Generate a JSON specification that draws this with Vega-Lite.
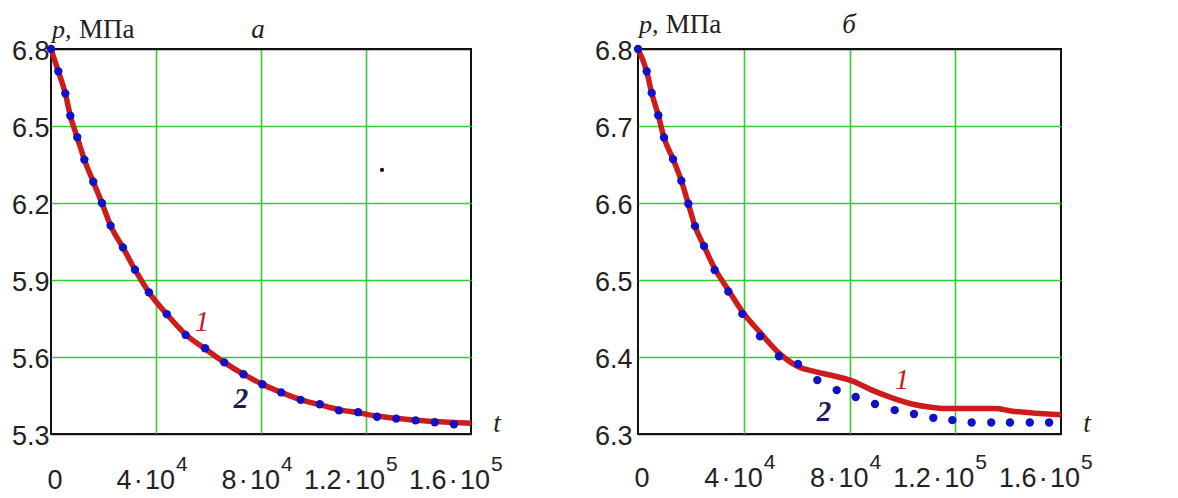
{
  "$schema": "https://vega.github.io/schema/vega-lite/v6.json",
  "background": "white",
  "padding": {"left": 10, "top": 10, "right": 5, "bottom": 5},
  "bounds": "flush",
  "spacing": 167,
  "config": {
    "view": {"stroke": "#111111", "strokeWidth": 2},
    "text": {"font": "Liberation Serif"}
  },
  "datasets": {
    "curveA": [
      {"t": 0, "p": 6.8}, {"t": 2800, "p": 6.713}, {"t": 5450, "p": 6.627}, {"t": 7350, "p": 6.54},
      {"t": 10000, "p": 6.456}, {"t": 12700, "p": 6.369}, {"t": 16100, "p": 6.283}, {"t": 19400, "p": 6.2},
      {"t": 22700, "p": 6.112}, {"t": 27400, "p": 6.027}, {"t": 32000, "p": 5.94}, {"t": 37300, "p": 5.852},
      {"t": 44100, "p": 5.767}, {"t": 51300, "p": 5.688}, {"t": 58700, "p": 5.632}, {"t": 66000, "p": 5.579},
      {"t": 73300, "p": 5.533}, {"t": 80500, "p": 5.494}, {"t": 87700, "p": 5.462}, {"t": 95100, "p": 5.434},
      {"t": 102400, "p": 5.414}, {"t": 109700, "p": 5.395}, {"t": 117000, "p": 5.383}, {"t": 124200, "p": 5.37},
      {"t": 131500, "p": 5.361}, {"t": 138900, "p": 5.354}, {"t": 146200, "p": 5.349}, {"t": 153500, "p": 5.345},
      {"t": 160000, "p": 5.342}
    ],
    "dotsA": [
      {"t": 0, "p": 6.8}, {"t": 2800, "p": 6.713}, {"t": 5450, "p": 6.627}, {"t": 7350, "p": 6.54},
      {"t": 10000, "p": 6.456}, {"t": 12700, "p": 6.369}, {"t": 16100, "p": 6.283}, {"t": 19400, "p": 6.2},
      {"t": 22700, "p": 6.112}, {"t": 27400, "p": 6.027}, {"t": 32000, "p": 5.94}, {"t": 37300, "p": 5.852},
      {"t": 44100, "p": 5.767}, {"t": 51300, "p": 5.686}, {"t": 58700, "p": 5.634}, {"t": 66000, "p": 5.579},
      {"t": 73300, "p": 5.533}, {"t": 80500, "p": 5.494}, {"t": 87700, "p": 5.462}, {"t": 95100, "p": 5.433},
      {"t": 102400, "p": 5.416}, {"t": 109700, "p": 5.392}, {"t": 117000, "p": 5.385}, {"t": 124200, "p": 5.367},
      {"t": 131500, "p": 5.36}, {"t": 138900, "p": 5.353}, {"t": 146200, "p": 5.346}, {"t": 153500, "p": 5.338}
    ],
    "strayA": [{"t": 126100, "p": 6.329}],
    "curveB": [
      {"t": 0, "p": 6.8}, {"t": 3290, "p": 6.771}, {"t": 5180, "p": 6.743}, {"t": 7680, "p": 6.714},
      {"t": 9830, "p": 6.685}, {"t": 13240, "p": 6.657}, {"t": 16380, "p": 6.629}, {"t": 19030, "p": 6.599},
      {"t": 21560, "p": 6.57}, {"t": 24960, "p": 6.544}, {"t": 29010, "p": 6.515}, {"t": 34160, "p": 6.487},
      {"t": 39450, "p": 6.459}, {"t": 46150, "p": 6.432}, {"t": 53330, "p": 6.405}, {"t": 60900, "p": 6.387},
      {"t": 67000, "p": 6.381}, {"t": 73400, "p": 6.376}, {"t": 80900, "p": 6.369}, {"t": 88500, "p": 6.357},
      {"t": 96100, "p": 6.347}, {"t": 103600, "p": 6.339}, {"t": 110100, "p": 6.335}, {"t": 116100, "p": 6.333},
      {"t": 135000, "p": 6.333}, {"t": 141100, "p": 6.33}, {"t": 160000, "p": 6.325}
    ],
    "dotsB": [
      {"t": 0, "p": 6.8}, {"t": 3290, "p": 6.771}, {"t": 5180, "p": 6.743}, {"t": 7680, "p": 6.714},
      {"t": 9830, "p": 6.685}, {"t": 13240, "p": 6.657}, {"t": 16380, "p": 6.629}, {"t": 19030, "p": 6.599},
      {"t": 21560, "p": 6.57}, {"t": 24960, "p": 6.544}, {"t": 29010, "p": 6.513}, {"t": 34160, "p": 6.485},
      {"t": 39450, "p": 6.456}, {"t": 46150, "p": 6.427}, {"t": 53330, "p": 6.401}, {"t": 60520, "p": 6.391},
      {"t": 67820, "p": 6.37}, {"t": 75160, "p": 6.357}, {"t": 82350, "p": 6.348}, {"t": 89650, "p": 6.339},
      {"t": 97100, "p": 6.331}, {"t": 104400, "p": 6.326}, {"t": 111700, "p": 6.321}, {"t": 118900, "p": 6.318},
      {"t": 126200, "p": 6.315}, {"t": 133600, "p": 6.315}, {"t": 140700, "p": 6.315}, {"t": 148200, "p": 6.315},
      {"t": 155500, "p": 6.315}
    ],
    "xlab": [
      {"t": 40000, "base": "4\u200a·\u200a10", "exp": "4"},
      {"t": 80000, "base": "8\u200a·\u200a10", "exp": "4"},
      {"t": 120000, "base": "1.2\u200a·\u200a10", "exp": "5"},
      {"t": 160000, "base": "1.6\u200a·\u200a10", "exp": "5"}
    ],
    "xzero": [{"t": 0, "base": "0"}]
  },
  "hconcat": [
    {
      "width": 420,
      "height": 385,
      "layer": [
        {
          "data": {"name": "curveA"},
          "mark": {"type": "line", "color": "#cc1c1c", "strokeWidth": 5.5, "interpolate": "monotone"},
          "encoding": {
            "x": {"field": "t", "type": "quantitative",
              "scale": {"domain": [0, 160000], "nice": false, "zero": false},
              "axis": {"title": null, "values": [40000, 80000, 120000], "labels": false, "ticks": false, "domain": false,
                "grid": true, "gridColor": "#33cc33", "gridWidth": 1.6, "gridOpacity": 1}},
            "y": {"field": "p", "type": "quantitative",
              "scale": {"domain": [5.3, 6.8], "nice": false, "zero": false},
              "axis": {"title": null, "values": [5.3, 5.6, 5.9, 6.2, 6.5, 6.8], "format": ".1f", "ticks": false, "tickSize": 0,
                "domain": false, "labelPadding": 2, "labelFont": "Liberation Sans", "labelFontSize": 27, "labelColor": "#222222",
                "labelOffset": 2,
                "grid": true, "gridColor": {"condition": {"test": "datum.value < 5.31 || datum.value > 6.79", "value": "#111111"}, "value": "#33cc33"},
                "gridWidth": 1.6, "gridOpacity": 1}}
          }
        },
        {
          "data": {"name": "dotsA"},
          "mark": {"type": "circle", "color": "#1212c4", "opacity": 1, "size": 70},
          "encoding": {"x": {"field": "t", "type": "quantitative"}, "y": {"field": "p", "type": "quantitative"}}
        },
        {
          "data": {"name": "strayA"},
          "mark": {"type": "circle", "color": "#111111", "opacity": 1, "size": 18},
          "encoding": {"x": {"field": "t", "type": "quantitative"}, "y": {"field": "p", "type": "quantitative"}}
        },
        {
          "data": {"values": [{"t": 57500, "p": 5.736, "label": "1"}]},
          "mark": {"type": "text", "color": "#c42020", "fontStyle": "italic", "fontSize": 29, "align": "center", "baseline": "middle"},
          "encoding": {"x": {"field": "t", "type": "quantitative"}, "y": {"field": "p", "type": "quantitative"}, "text": {"field": "label"}}
        },
        {
          "data": {"values": [{"t": 72400, "p": 5.436, "label": "2"}]},
          "mark": {"type": "text", "color": "#1c1c5c", "fontStyle": "italic", "fontWeight": "bold", "fontSize": 29, "align": "center", "baseline": "middle"},
          "encoding": {"x": {"field": "t", "type": "quantitative"}, "y": {"field": "p", "type": "quantitative"}, "text": {"field": "label"}}
        },
        {
          "data": {"values": [{"t": 169900, "p": 5.339, "label": "t"}, {"t": 78900, "p": 6.874, "label": "a"}]},
          "mark": {"type": "text", "color": "#222222", "fontStyle": "italic", "fontSize": 27, "align": "center", "baseline": "middle"},
          "encoding": {"x": {"field": "t", "type": "quantitative"}, "y": {"field": "p", "type": "quantitative"}, "text": {"field": "label"}}
        },
        {
          "data": {"values": [{"t": 400, "p": 6.874, "label": "p,"}]},
          "mark": {"type": "text", "color": "#222222", "fontStyle": "italic", "fontSize": 26, "align": "left", "baseline": "middle"},
          "encoding": {"x": {"field": "t", "type": "quantitative"}, "y": {"field": "p", "type": "quantitative"}, "text": {"field": "label"}}
        },
        {
          "data": {"values": [{"t": 10700, "p": 6.874, "label": "МПа"}]},
          "mark": {"type": "text", "color": "#222222", "fontSize": 27, "align": "left", "baseline": "middle"},
          "encoding": {"x": {"field": "t", "type": "quantitative"}, "y": {"field": "p", "type": "quantitative"}, "text": {"field": "label"}}
        },
        {
          "data": {"name": "xlab"},
          "mark": {"type": "text", "font": "Liberation Sans", "color": "#222222", "fontSize": 27, "align": "right", "baseline": "alphabetic", "dx": 19, "dy": 55},
          "encoding": {"x": {"field": "t", "type": "quantitative"}, "y": {"datum": 5.3}, "text": {"field": "base"}}
        },
        {
          "data": {"name": "xlab"},
          "mark": {"type": "text", "font": "Liberation Sans", "color": "#222222", "fontSize": 21, "align": "left", "baseline": "alphabetic", "dx": 20, "dy": 37},
          "encoding": {"x": {"field": "t", "type": "quantitative"}, "y": {"datum": 5.3}, "text": {"field": "exp"}}
        },
        {
          "data": {"name": "xzero"},
          "mark": {"type": "text", "font": "Liberation Sans", "color": "#222222", "fontSize": 27, "align": "center", "baseline": "alphabetic", "dx": 4, "dy": 55},
          "encoding": {"x": {"field": "t", "type": "quantitative"}, "y": {"datum": 5.3}, "text": {"field": "base"}}
        }
      ]
    },
    {
      "width": 423,
      "height": 385,
      "layer": [
        {
          "data": {"name": "curveB"},
          "mark": {"type": "line", "color": "#cc1c1c", "strokeWidth": 5.5, "interpolate": "monotone"},
          "encoding": {
            "x": {"field": "t", "type": "quantitative",
              "scale": {"domain": [0, 160000], "nice": false, "zero": false},
              "axis": {"title": null, "values": [40000, 80000, 120000], "labels": false, "ticks": false, "domain": false,
                "grid": true, "gridColor": "#33cc33", "gridWidth": 1.6, "gridOpacity": 1}},
            "y": {"field": "p", "type": "quantitative",
              "scale": {"domain": [6.3, 6.8], "nice": false, "zero": false},
              "axis": {"title": null, "values": [6.3, 6.4, 6.5, 6.6, 6.7, 6.8], "format": ".1f", "ticks": false, "tickSize": 0,
                "domain": false, "labelPadding": 6, "labelFont": "Liberation Sans", "labelFontSize": 27, "labelColor": "#222222",
                "labelOffset": 2,
                "grid": true, "gridColor": {"condition": {"test": "datum.value < 6.31 || datum.value > 6.79", "value": "#111111"}, "value": "#33cc33"},
                "gridWidth": 1.6, "gridOpacity": 1}}
          }
        },
        {
          "data": {"name": "dotsB"},
          "mark": {"type": "circle", "color": "#1212c4", "opacity": 1, "size": 70},
          "encoding": {"x": {"field": "t", "type": "quantitative"}, "y": {"field": "p", "type": "quantitative"}}
        },
        {
          "data": {"values": [{"t": 99900, "p": 6.37, "label": "1"}]},
          "mark": {"type": "text", "color": "#c42020", "fontStyle": "italic", "fontSize": 29, "align": "center", "baseline": "middle"},
          "encoding": {"x": {"field": "t", "type": "quantitative"}, "y": {"field": "p", "type": "quantitative"}, "text": {"field": "label"}}
        },
        {
          "data": {"values": [{"t": 70350, "p": 6.329, "label": "2"}]},
          "mark": {"type": "text", "color": "#1c1c5c", "fontStyle": "italic", "fontWeight": "bold", "fontSize": 29, "align": "center", "baseline": "middle"},
          "encoding": {"x": {"field": "t", "type": "quantitative"}, "y": {"field": "p", "type": "quantitative"}, "text": {"field": "label"}}
        },
        {
          "data": {"values": [{"t": 169800, "p": 6.313, "label": "t"}, {"t": 79800, "p": 6.831, "label": "б"}]},
          "mark": {"type": "text", "color": "#222222", "fontStyle": "italic", "fontSize": 27, "align": "center", "baseline": "middle"},
          "encoding": {"x": {"field": "t", "type": "quantitative"}, "y": {"field": "p", "type": "quantitative"}, "text": {"field": "label"}}
        },
        {
          "data": {"values": [{"t": 400, "p": 6.831, "label": "p,"}]},
          "mark": {"type": "text", "color": "#222222", "fontStyle": "italic", "fontSize": 26, "align": "left", "baseline": "middle"},
          "encoding": {"x": {"field": "t", "type": "quantitative"}, "y": {"field": "p", "type": "quantitative"}, "text": {"field": "label"}}
        },
        {
          "data": {"values": [{"t": 10500, "p": 6.831, "label": "МПа"}]},
          "mark": {"type": "text", "color": "#222222", "fontSize": 27, "align": "left", "baseline": "middle"},
          "encoding": {"x": {"field": "t", "type": "quantitative"}, "y": {"field": "p", "type": "quantitative"}, "text": {"field": "label"}}
        },
        {
          "data": {"name": "xlab"},
          "mark": {"type": "text", "font": "Liberation Sans", "color": "#222222", "fontSize": 27, "align": "right", "baseline": "alphabetic", "dx": 19, "dy": 53},
          "encoding": {"x": {"field": "t", "type": "quantitative"}, "y": {"datum": 6.3}, "text": {"field": "base"}}
        },
        {
          "data": {"name": "xlab"},
          "mark": {"type": "text", "font": "Liberation Sans", "color": "#222222", "fontSize": 21, "align": "left", "baseline": "alphabetic", "dx": 20, "dy": 35},
          "encoding": {"x": {"field": "t", "type": "quantitative"}, "y": {"datum": 6.3}, "text": {"field": "exp"}}
        },
        {
          "data": {"name": "xzero"},
          "mark": {"type": "text", "font": "Liberation Sans", "color": "#222222", "fontSize": 27, "align": "center", "baseline": "alphabetic", "dx": 4, "dy": 53},
          "encoding": {"x": {"field": "t", "type": "quantitative"}, "y": {"datum": 6.3}, "text": {"field": "base"}}
        }
      ]
    }
  ]
}
